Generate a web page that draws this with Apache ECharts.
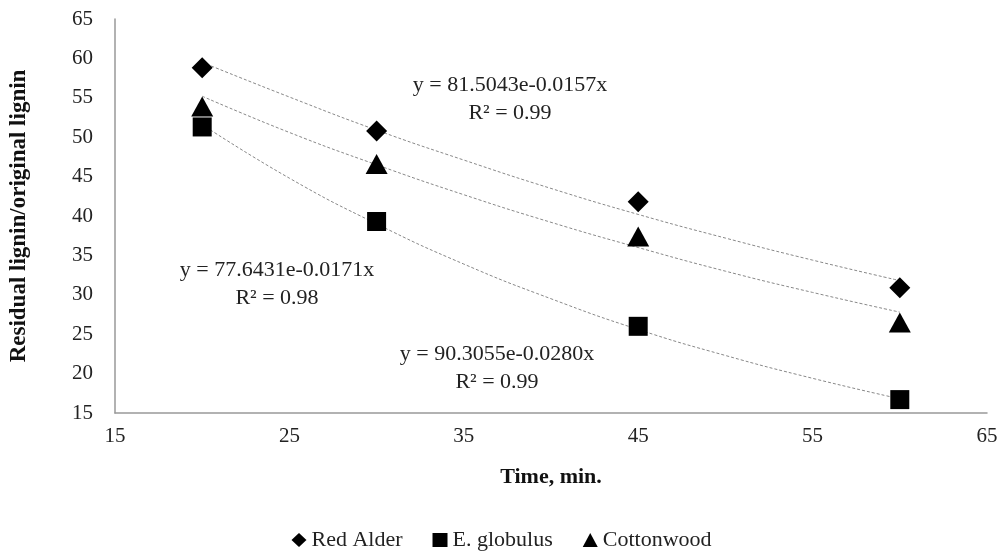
<!DOCTYPE html>
<html>
<head>
<meta charset="utf-8">
<script src="https://cdn.jsdelivr.net/npm/echarts@6/dist/echarts.min.js"></script>
<style>
  html, body { margin: 0; padding: 0; background: #fff; }
  #chart { width: 1003px; height: 552px; }
</style>
</head>
<body>
<div id="chart"></div>
<script>
// measured points
const times = [20, 30, 45, 60];
const redAlder = [58.8, 50.8, 41.8, 30.9];
const eGlobulus = [51.3, 39.3, 26.0, 16.7];
const cottonwood = [53.9, 46.6, 37.4, 26.5];

// trend curves
const trendTimes = [20, 25, 30, 35, 40, 45, 50, 55, 60];
const redAlderTrend = [59.5, 55.1, 50.9, 47.1, 43.5, 40.2, 37.2, 34.4, 31.8];
const eGlobulusTrend = [51.6, 44.8, 39.0, 33.9, 29.5, 25.6, 22.3, 19.4, 16.8];
const cottonwoodTrend = [55.2, 50.6, 46.5, 42.7, 39.2, 36.0, 33.0, 30.3, 27.8];

const seriesNames = ['Red Alder', 'E. globulus', 'Cottonwood'];
const equations = [
  'y = 81.5043e-0.0157x\nR² = 0.99',
  'y = 77.6431e-0.0171x\nR² = 0.98',
  'y = 90.3055e-0.0280x\nR² = 0.99',
];

const font = '"Liberation Serif", "Times New Roman", serif';
const pair = (xs, ys) => xs.map((x, i) => [x, ys[i]]);

const chart = echarts.init(document.getElementById('chart'));

const pointSeries = (name, values, symbol, size) => ({
  name,
  type: 'scatter',
  data: pair(times, values),
  symbol,
  symbolSize: size,
  itemStyle: { color: '#000', opacity: 1 },
  z: 3,
});

const trendSeries = (values) => ({
  type: 'line',
  data: pair(trendTimes, values),
  smooth: true,
  showSymbol: false,
  silent: true,
  lineStyle: { color: '#888', width: 1, type: [3, 2] },
  z: 2,
});

// equation labels, x/y is the centre of the two-line block
const eqText = (x, y, text) => ({
  type: 'text',
  x,
  y,
  style: {
    text,
    font: '22px ' + font,
    fill: '#222',
    align: 'center',
    verticalAlign: 'middle',
    lineHeight: 28,
  },
});

chart.setOption({
  animation: false,
  textStyle: { fontFamily: font },
  grid: { left: 115, right: 16, top: 19, bottom: 139 },
  xAxis: {
    type: 'value',
    min: 15,
    max: 65,
    interval: 10,
    name: 'Time, min.',
    nameLocation: 'middle',
    nameGap: 53,
    nameTextStyle: { fontFamily: font, fontWeight: 'bold', fontSize: 22, color: '#111' },
    axisLine: { lineStyle: { color: '#999', width: 1.5 } },
    axisTick: { show: false },
    splitLine: { show: false },
    axisLabel: { fontFamily: font, fontSize: 21, color: '#222', margin: 13 },
  },
  yAxis: {
    type: 'value',
    min: 15,
    max: 65,
    interval: 5,
    name: 'Residual lignin/original lignin',
    nameLocation: 'middle',
    nameGap: 84,
    nameTextStyle: { fontFamily: font, fontWeight: 'bold', fontSize: 23, color: '#111' },
    axisLine: { show: true, lineStyle: { color: '#999', width: 1.5 } },
    axisTick: { show: false },
    splitLine: { show: false },
    axisLabel: { fontFamily: font, fontSize: 21, color: '#222', margin: 22 },
  },
  legend: {
    data: [
      { name: seriesNames[0], icon: 'diamond' },
      { name: seriesNames[1], icon: 'rect' },
      { name: seriesNames[2], icon: 'triangle' },
    ],
    bottom: 1,
    padding: 0,
    left: 'center',
    itemWidth: 15,
    itemHeight: 14,
    itemGap: 30,
    textStyle: { fontFamily: font, fontSize: 22, color: '#222' },
  },
  graphic: [
    eqText(510, 99, equations[0]),
    eqText(277, 284, equations[1]),
    eqText(497, 368, equations[2]),
  ],
  series: [
    trendSeries(redAlderTrend),
    trendSeries(eGlobulusTrend),
    trendSeries(cottonwoodTrend),
    pointSeries(seriesNames[0], redAlder, 'diamond', [21, 21]),
    pointSeries(seriesNames[1], eGlobulus, 'rect', [19, 19]),
    pointSeries(seriesNames[2], cottonwood, 'triangle', [22, 20]),
  ],
});
</script>
</body>
</html>
